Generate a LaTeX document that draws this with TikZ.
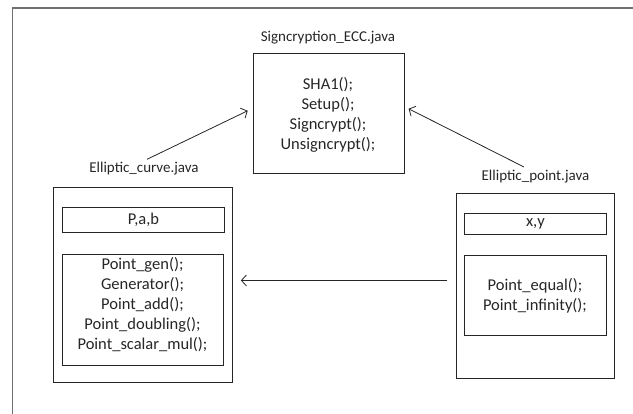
\documentclass[tikz,border=0pt]{standalone}
\usepackage{fontspec}
\setmainfont{Carlito}
\usetikzlibrary{arrows.meta,calc}
\definecolor{ink}{HTML}{262626}
\definecolor{framegray}{HTML}{707070}
\begin{document}
\begin{tikzpicture}[x=1pt,y=-1pt,
  box/.style={draw=ink, line width=0.9pt, anchor=north west, inner sep=0pt},
  body/.style={text=ink, font=\fontsize{16.5}{20}\selectfont, align=center, inner sep=0pt},
  title/.style={text=ink, font=\fontsize{15}{18}\selectfont, inner sep=1pt},
  link/.style={draw=ink, line width=0.8pt, -{Straight Barb[length=5pt,width=11pt]}}]
\useasboundingbox (0,0) rectangle (633,414);
% page frame
\draw[framegray, line width=1.6pt] (12.3,420) -- (12.3,8.3) -- (640,8.3);

% Signcryption_ECC class
\node[title] (sigtitle) at (328,38) {Signcryption\_ECC.java};
\node[box, minimum width=151pt, minimum height=120pt] (sig) at (252.7,53.3) {};
\node[body] (sigbody) at (328,115) {SHA1();\\Setup();\\Signcrypt();\\Unsigncrypt();};

% Elliptic_curve class
\node[title] (ectitle) at (144,169) {Elliptic\_curve.java};
\node[box, minimum width=179pt, minimum height=195pt] (ec) at (53,187) {};
\node[box, minimum width=162pt, minimum height=25pt] (ecattr) at (62,207) {};
\node[body] at (ecattr.center) {P,a,b};
\node[box, minimum width=161pt, minimum height=111pt] (ecmeth) at (62,254) {};
\node[body] at (142.5,304.5) {Point\_gen();\\Generator();\\Point\_add();\\Point\_doubling();\\Point\_scalar\_mul();};

% Elliptic_point class
\node[title] (eptitle) at (535.5,176.7) {Elliptic\_point.java};
\node[box, minimum width=158pt, minimum height=185pt] (ep) at (456,193) {};
\node[box, minimum width=142pt, minimum height=21pt] (epattr) at (464,213) {};
\node[body] at (epattr.center) {x,y};
\node[box, minimum width=142pt, minimum height=80pt] (epmeth) at (464,255) {};
\node[body] at (535,296) {Point\_equal();\\Point\_infinity();};

% associations
\draw[link] ([xshift=3pt,yshift=2pt]ectitle.north) -- ([xshift=-5pt,yshift=3pt]sig.west);
\draw[link] ([xshift=-11.5pt,yshift=2pt]eptitle.north) -- ([xshift=4pt,yshift=5pt]sig.east);
\coordinate (hstart) at ([xshift=-9pt,yshift=5.5pt]ep.west);
\draw[link] (hstart) -- ([xshift=8pt]hstart -| ec.east);
\end{tikzpicture}
\end{document}
